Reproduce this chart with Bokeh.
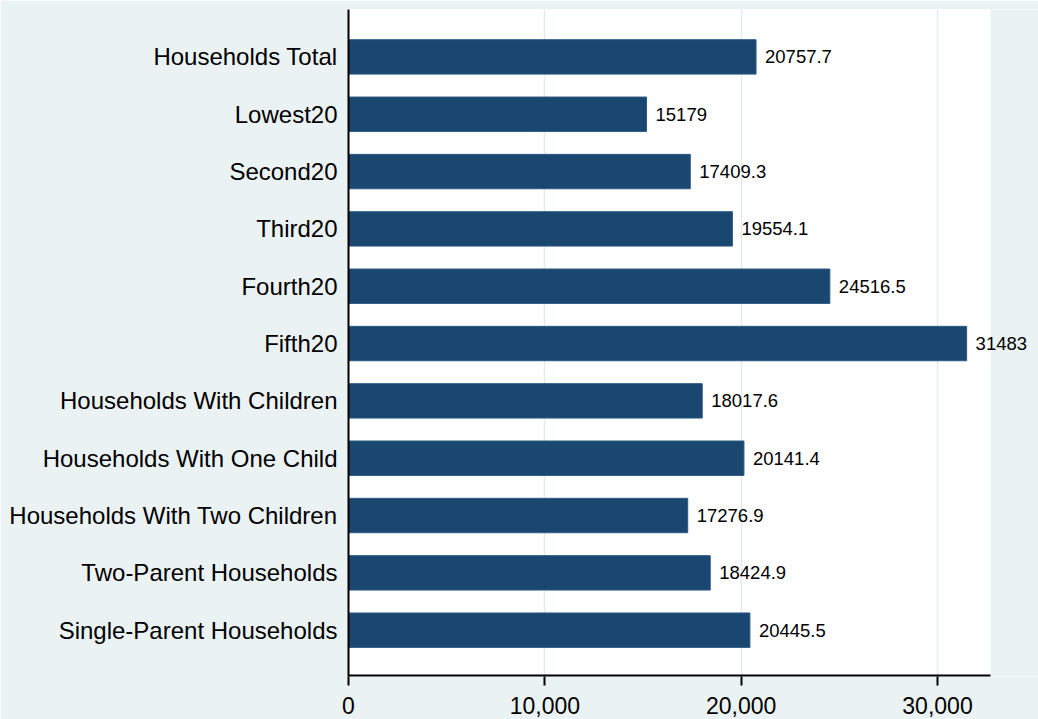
from bokeh.plotting import figure
from bokeh.models import ColumnDataSource, Range1d, FixedTicker, NumeralTickFormatter, LabelSet, BoxAnnotation
from bokeh.core.properties import value
from bokeh.embed import file_html
from bokeh.resources import INLINE

categories = ["Households Total", "Lowest20", "Second20", "Third20", "Fourth20", "Fifth20",
              "Households With Children", "Households With One Child",
              "Households With Two Children", "Two-Parent Households",
              "Single-Parent Households"]
values = [20757.7, 15179, 17409.3, 19554.1, 24516.5, 31483, 18017.6, 20141.4,
          17276.9, 18424.9, 20445.5]
x_ticks = [0, 10000, 20000, 30000]

pos = list(range(len(categories)))
labels = [f"{v:g}" for v in values]
src = ColumnDataSource(dict(y=pos, v=values, lab=labels))

BG = "#eaf2f3"
FONT = "Liberation Sans"
PLOT_END = 32700      # right edge of the white plot region
Y_START, Y_END = 10.808, -0.827

p = figure(width=1038, height=719, output_backend="svg", toolbar_location=None,
           x_range=Range1d(0, 35144), y_range=Range1d(Y_START, Y_END),
           min_border_left=348, min_border_right=0, min_border_top=9, min_border_bottom=43)
p.background_fill_color = "white"
p.border_fill_color = BG
p.outline_line_color = None

# background band right of the plot region (labels may spill into it)
p.add_layout(BoxAnnotation(left=PLOT_END, fill_color=BG, fill_alpha=1.0,
                           line_color=None, level="underlay"))

p.hbar(y="y", right="v", left=0, height=0.60, source=src,
       fill_color="#1a476f", line_color="#2b5a84", line_width=1)

# bottom axis line limited to the plot region
p.segment(x0=0, x1=PLOT_END, y0=Y_START, y1=Y_START, line_color="black", line_width=4)

ls = LabelSet(x="v", y="y", text="lab", source=src, x_offset=9,
              text_baseline="middle", text_align="left",
              text_font=value(FONT), text_font_size="18.5px", text_color="black")
p.add_layout(ls)

# x axis
xa = p.xaxis[0]
xa.ticker = FixedTicker(ticks=x_ticks)
xa.formatter = NumeralTickFormatter(format="0,0")
xa.axis_line_color = None
xa.major_tick_line_color = "black"
xa.major_tick_line_width = 2
xa.major_tick_out = 9
xa.major_tick_in = 0
xa.minor_tick_line_color = None
xa.major_label_text_font = FONT
xa.major_label_text_font_size = "23px"
xa.major_label_text_color = "black"
xa.major_label_standoff = 11

# y axis
ya = p.yaxis[0]
ya.ticker = FixedTicker(ticks=pos)
ya.major_label_overrides = {i: c for i, c in enumerate(categories)}
ya.axis_line_color = "black"
ya.axis_line_width = 2
ya.major_tick_line_color = None
ya.minor_tick_line_color = None
ya.major_label_text_font = FONT
ya.major_label_text_font_size = "24px"
ya.major_label_text_color = "black"
ya.major_label_standoff = 5

p.xgrid.ticker = FixedTicker(ticks=x_ticks[1:])
p.xgrid.grid_line_color = "#e3ebee"
p.xgrid.grid_line_width = 1.5
p.ygrid.grid_line_color = None

html = file_html(p, INLINE)
open("out.html", "w").write(html)
